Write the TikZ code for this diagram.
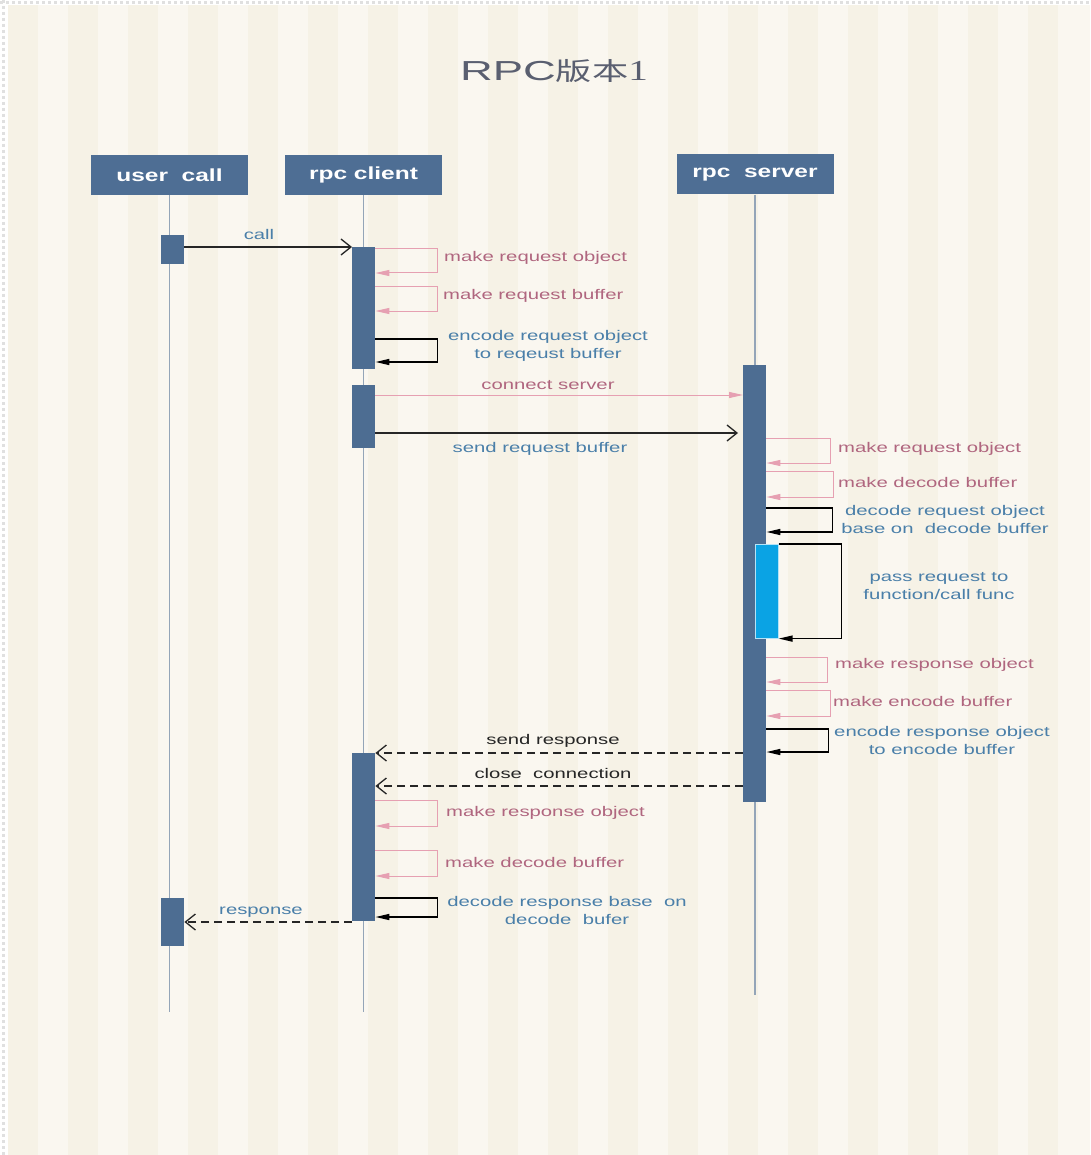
\documentclass[tikz,border=0pt]{standalone}
\usepackage{fontspec}
\usetikzlibrary{arrows.meta}
\setmainfont{Liberation Sans}
\newfontfamily\lblfont[FakeStretch=1.45]{Liberation Sans}
\newfontfamily\hdrfont[FakeStretch=1.4]{Liberation Sans}
\newfontfamily\ttlfont[FakeStretch=1.65]{Liberation Sans}
\newfontfamily\cjkfont[FakeStretch=1.45]{Noto Sans CJK SC}
\newfontfamily\ttlserif[FakeStretch=1.35]{Liberation Serif}

\definecolor{stripeA}{HTML}{F6F2E6}
\definecolor{stripeB}{HTML}{FAF7F0}
\definecolor{hdrblue}{HTML}{4E6E94}
\definecolor{actblue}{HTML}{4D6D92}
\definecolor{lifec}{HTML}{94A5B8}
\definecolor{callblue}{HTML}{0AA3E4}
\definecolor{pinkline}{HTML}{E6A0B2}
\definecolor{pinktxt}{HTML}{B0667F}
\definecolor{bluetxt}{HTML}{4A7FA9}
\definecolor{titlec}{HTML}{5A5F70}

\tikzset{
  hdr/.style={fill=hdrblue, text=white, minimum width=157, minimum height=40,
    inner sep=0, font=\fontsize{17.5}{20}\hdrfont\bfseries},
  life/.style={draw=lifec, line width=1.6},
  act/.style={fill=actblue, draw=none, minimum width=23, inner sep=0, anchor=north west},
  inner/.style={fill=callblue, draw=white!70!callblue, line width=0.6, minimum width=23,
    inner sep=0, anchor=north west},
  msg/.style={draw=black!85, line width=1.3, -{Straight Barb[length=10pt,width=16pt]}},
  dmsg/.style={msg, dash pattern=on 8pt off 5pt},
  pmsg/.style={draw=pinkline, line width=1, -{Triangle[length=14pt,width=6pt]}},
  selfp/.style={draw=pinkline, line width=1, -{Triangle[length=14pt,width=6pt]}},
  selfk/.style={draw=black, line width=1.5, -{Triangle[length=14pt,width=6pt]}},
  lbl/.style={inner sep=0, font=\fontsize{14}{18}\lblfont, align=center},
  lblp/.style={lbl, text=pinktxt, anchor=west},
  lblb/.style={lbl, text=bluetxt},
  lblk/.style={lbl, text=black!85},
}

% self message on an activation bar: style, bar, top y, bottom y, loop width
\newcommand\selfmsg[5]{\draw[#1] (#2.east |- 0,#3) -- ++(#5,0) |- (#2.east |- 0,#4);}

\begin{document}
\begin{tikzpicture}[x=1pt, y=-1pt]
\useasboundingbox (0,0) rectangle (1090,1155);

% striped paper background
\fill[stripeB] (0,0) rectangle (1090,1155);
\foreach \i in {0,...,17}
  \fill[stripeA] (8+\i*60,0) rectangle (38+\i*60,1155);
\fill[white] (0,0) rectangle (8,1155);
\fill[white] (0,0) rectangle (1090,5);
\draw[black!12, line width=3, dash pattern=on 3pt off 3pt] (3.5,0) -- (3.5,1155);
\draw[black!12, line width=2.5, dash pattern=on 3pt off 3pt] (0,2.5) -- (1090,2.5);

% title
\node[text=titlec] (title) at (554,71)
  {\fontsize{27.5}{30}\ttlfont RPC\fontsize{25}{30}\cjkfont 版本\fontsize{29}{30}\ttlserif 1};

% participants
\node[hdr] (u) at (169.5,175) {user\ \ call};
\node[hdr] (c) at (363.5,175) {rpc client};
\node[hdr] (s) at (755,174.5) {rpc\ \ server};

% lifelines
\draw[life] (u.south) -- (u.south |- 0,1012);
\draw[life] (c.south) -- (c.south |- 0,1012);
\draw[life] (s.south) -- (s.south |- 0,995);

% activation bars
\node[act, minimum height=29] (ua1) at (161,235) {};
\node[act, minimum height=48] (ua2) at (161,898) {};
\node[act, minimum height=122] (ca1) at (352,247) {};
\node[act, minimum height=63] (ca2) at (352,385) {};
\node[act, minimum height=168] (ca3) at (352,753) {};
\node[act, minimum height=437] (sa1) at (743,365) {};
\node[inner, minimum height=94] (sb1) at (755,544) {};

% user call -> client
\draw[msg] (ua1.east |- 0,247) -- (ca1.west |- 0,247);
\node[lblb] (lcall) at (259,234) {call};

% client prepares the request
\selfmsg{selfp}{ca1}{249}{273}{62}
\node[lblp] (l1) at (444,258) {make request object};
\selfmsg{selfp}{ca1}{287}{311}{62}
\node[lblp] (l2) at (443,296) {make request buffer};
\selfmsg{selfk}{ca1}{339}{362}{62}
\node[lblb] (l3) at (548,346) {encode request object\\to reqeust buffer};

% client -> server
\draw[pmsg] (ca2.east |- 0,395) -- (sa1.west |- 0,395);
\node[lbl, text=pinktxt] (l4) at (548,385) {connect server};
\draw[msg, shorten >=5pt] (ca2.east |- 0,433) -- (sa1.west |- 0,433);
\node[lblb] (l5) at (540,449) {send request buffer};

% server handles the request
\selfmsg{selfp}{sa1}{438}{463}{64}
\node[lblp] (l6) at (838,449) {make request object};
\selfmsg{selfp}{sa1}{471}{497}{67}
\node[lblp] (l7) at (838,482) {make decode buffer};
\selfmsg{selfk}{sa1}{508}{532}{66}
\node[lblb] (l8) at (945,519) {decode request object\\base on\ \ decode buffer};
\draw[selfk] (sb1.north east) -- ++(63,0) |- (sb1.south east);
\node[lblb] (l9) at (939,586) {pass request to\\function/call func};
\selfmsg{selfp}{sa1}{657}{682}{61}
\node[lblp] (l10) at (835,665) {make response object};
\selfmsg{selfp}{sa1}{690}{716}{64}
\node[lblp] (l11) at (833,701) {make encode buffer};
\selfmsg{selfk}{sa1}{729}{752}{62}
\node[lblb] (l12) at (942,740) {encode response object\\to encode buffer};

% server -> client
\draw[dmsg] (sa1.west |- 0,753) -- (ca3.east |- 0,753);
\node[lblk] (l13) at (553,741) {send response};
\draw[dmsg] (sa1.west |- 0,786) -- (ca3.east |- 0,786);
\node[lblk] (l14) at (553,773) {close\ \ connection};

% client decodes the response
\selfmsg{selfp}{ca3}{800}{826}{62}
\node[lblp] (l15) at (446,813) {make response object};
\selfmsg{selfp}{ca3}{850}{876}{62}
\node[lblp] (l16) at (445,862) {make decode buffer};
\selfmsg{selfk}{ca3}{898}{917}{62}
\node[lblb] (l17) at (567,910) {decode response base\ \ on\\decode\ \ bufer};

% client -> user call
\draw[dmsg] (ca3.west |- 0,922) -- (ua2.east |- 0,922);
\node[lblb] (l18) at (261,912) {response};
\end{tikzpicture}
\end{document}
